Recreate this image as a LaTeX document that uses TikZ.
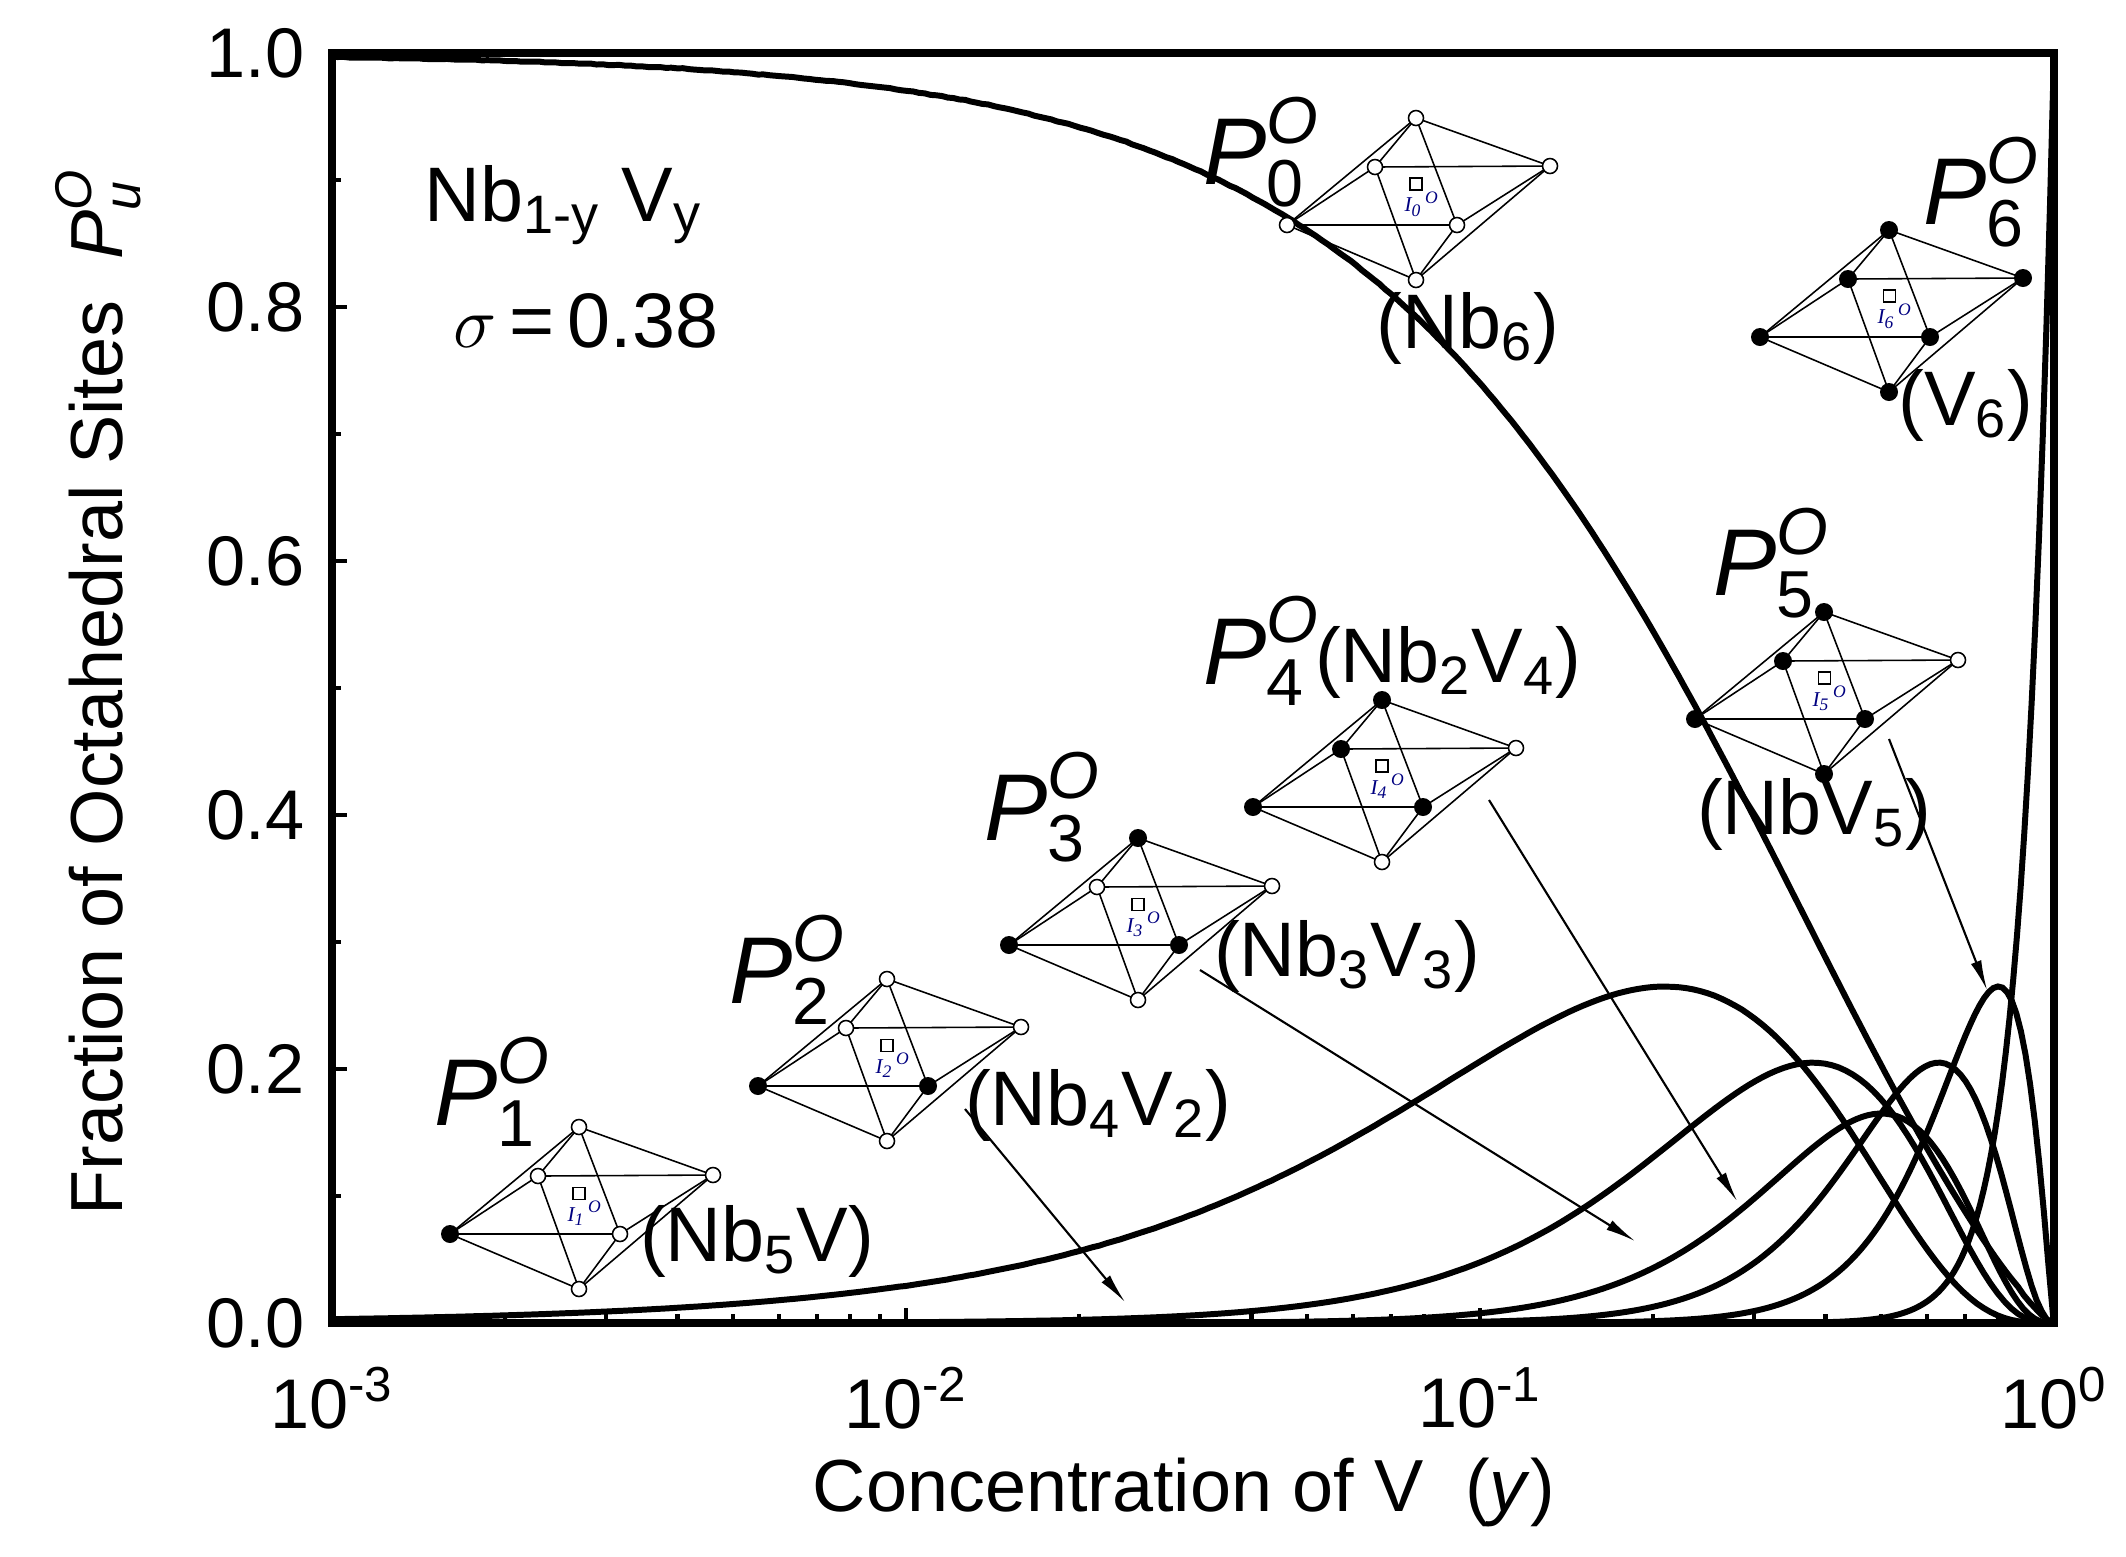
\documentclass[tikz,border=0pt]{standalone}
\usepackage{amsmath}
\usepackage{fontspec}
\setmainfont{Liberation Sans}
\newfontfamily\serifit{Liberation Serif}
\usetikzlibrary{arrows.meta}
\tikzset{
  curve/.style={line width=1.7pt},
  frame/.style={line width=2.2pt},
  oct/.style={line width=0.45pt},
  fv/.style={circle,fill=black,inner sep=0pt,minimum size=1.8mm},
  ov/.style={circle,draw,fill=white,inner sep=0pt,minimum size=1.5mm,line width=0.45pt},
  ptr/.style={line width=0.6pt,-{Latex[length=3mm,width=1.1mm]}},
  plab/.style={font=\fontsize{27}{27}\selectfont,inner sep=0pt},
  clab/.style={font=\fontsize{22}{22}\selectfont,inner sep=0pt},
  ticklab/.style={font=\fontsize{20}{20}\selectfont,inner sep=0pt}
}
\newcommand\PL[1]{$\text{\textit{P}}^{\text{\textit{O}}}_{\text{#1}}$}
\newcommand\octa[9]{%
\begin{scope}[shift={(#1,#2)}]
\coordinate (o#9T) at (0,0);
\coordinate (o#9BL) at (-41,49);
\coordinate (o#9R) at (134,48);
\coordinate (o#9L) at (-129,107);
\coordinate (o#9FR) at (41,107);
\coordinate (o#9B) at (0,162);
\draw[oct] (o#9T)--(o#9L)--(o#9B)--(o#9R)--cycle;
\draw[oct] (o#9T)--(o#9BL)--(o#9B)--(o#9FR)--cycle;
\draw[oct] (o#9L)--(o#9BL)--(o#9R) (o#9L)--(o#9FR)--(o#9R);
\draw[line width=0.3pt] (-6,60) rectangle (6,72);
\node[inner sep=0pt,text=blue!50!black,font=\serifit\itshape\fontsize{6}{6}\selectfont] (lab#9) at (6,86) {I\textsubscript{#9}\textsuperscript{\,O}};
\node[#3] (v#9a) at (o#9T) {};
\node[#4] (v#9b) at (o#9BL) {};
\node[#5] (v#9c) at (o#9R) {};
\node[#6] (v#9d) at (o#9L) {};
\node[#7] (v#9e) at (o#9FR) {};
\node[#8] (v#9f) at (o#9B) {};
\end{scope}}
\begin{document}
\begin{tikzpicture}[x=0.1mm,y=-0.1mm]
\useasboundingbox (0,0) rectangle (2126,1556);
% ticks
\foreach \d in {0,1,2}{
  \foreach \m in {2,...,9}{
    \draw[line width=1.2pt] ({332+574*(\d+log10(\m))},1323) -- ++(0,-9);
  }}
\foreach \d in {1,2}{\draw[line width=1.2pt] ({332+574*\d},1323) -- ++(0,-15);}
\foreach \v in {0.2,0.4,0.6,0.8}{\draw[line width=1.2pt] (332,{1323-1270*\v}) -- ++(15,0);}
\foreach \v in {0.1,0.3,0.5,0.7,0.9}{\draw[line width=1.2pt] (332,{1323-1270*\v}) -- ++(9,0);}
% tick labels
\foreach \v/\s in {0/0.0,0.2/0.2,0.4/0.4,0.6/0.6,0.8/0.8,1/1.0}{
  \node[ticklab,anchor=east] (yl\s) at (305,{1323-1270*\v}) {\s};}
\foreach \d/\e in {0/-3,1/-2,2/-1,3/0}{
  \node[ticklab] (xl\d) at ({332+574*\d},1398) {10\textsuperscript{\e}};}
% axis labels
\node[font=\fontsize{21}{21}\selectfont,rotate=90] (ylab) at (98,692) {Fraction of Octahedral Sites \ \PL{\textit{u}}};
\node[font=\fontsize{21}{21}\selectfont] (xlab) at (1184,1492) {Concentration of V \ (\textit{y})};
% curves
\def\XX#1{332+574*(#1+3)}
\draw[curve] plot[domain=-3:-0.0003,samples=300,variable=\t] ({\XX{\t}},{1323-1270*pow(1-pow(10,\t),3-1.4*pow(10,\t))});
\draw[curve] plot[domain=-1.6:-0.0003,samples=250,variable=\t] ({\XX{\t}},{1323-1270*pow(pow(10,\t),8)});
\foreach \a/\b/\h/\lo in {1/3.76/0.265/-3, 2/3.26/0.205/-3, 3/3/0.165/-2.5, 4/2.35/0.205/-2.2, 5/1.25/0.265/-2}{
  \pgfmathsetmacro\p{\a/(\a+\b)}
  \draw[curve] plot[domain=\lo:-0.0003,samples=250,variable=\t]
    ({\XX{\t}},{1323-1270*\h*pow(pow(10,\t)/\p,\a)*pow((1-pow(10,\t))/(1-\p),\b)});
}
% frame
\draw[frame] (332,53) rectangle (2054,1323);
% octahedra
\octa{1416}{118}{ov}{ov}{ov}{ov}{ov}{ov}{0}
\octa{1889}{230}{fv}{fv}{fv}{fv}{fv}{fv}{6}
\octa{1824}{612}{fv}{fv}{ov}{fv}{fv}{fv}{5}
\octa{1382}{700}{fv}{fv}{ov}{fv}{fv}{ov}{4}
\octa{1138}{838}{fv}{ov}{ov}{fv}{fv}{ov}{3}
\octa{887}{979}{ov}{ov}{ov}{fv}{fv}{ov}{2}
\octa{579}{1127}{ov}{ov}{ov}{fv}{ov}{ov}{1}
% labels
\node[plab] (p0) at (1262,152) {\PL{0}};
\node[plab] (p6) at (1982,192) {\PL{6}};
\node[plab] (p5) at (1772,563) {\PL{5}};
\node[plab] (p4) at (1262,651) {\PL{4}};
\node[plab] (p3) at (1043,807) {\PL{3}};
\node[plab] (p2) at (788,970) {\PL{2}};
\node[plab] (p1) at (493,1092) {\PL{1}};
\node[clab] (c0) at (1468,328) {(Nb\textsubscript{6})};
\node[clab] (c6) at (1966,405) {(V\textsubscript{6})};
\node[clab] (c5) at (1814,814) {(NbV\textsubscript{5})};
\node[clab] (c4) at (1448,662) {(Nb\textsubscript{2}V\textsubscript{4})};
\node[clab] (c3) at (1347,956) {(Nb\textsubscript{3}V\textsubscript{3})};
\node[clab] (c2) at (1098,1105) {(Nb\textsubscript{4}V\textsubscript{2})};
\node[clab] (c1) at (757,1241) {(Nb\textsubscript{5}V)};
\node[clab] (alloy) at (563,205) {Nb\textsubscript{1-y} V\textsubscript{y}};
\node[clab] (sig) at (586,321) {$\sigma$\,=\,0.38};
% arrows
\coordinate (a2s) at (965,1109); \coordinate (a2e) at (1125,1302);
\coordinate (a3s) at (1200,970); \coordinate (a3e) at (1635,1241);
\coordinate (a4s) at (1489,800); \coordinate (a4e) at (1737,1201);
\coordinate (a5s) at (1889,739); \coordinate (a5e) at (1987,990);
\draw[ptr] (a2s) -- (a2e);
\draw[ptr] (a3s) -- (a3e);
\draw[ptr] (a4s) -- (a4e);
\draw[ptr] (a5s) -- (a5e);
\end{tikzpicture}
\end{document}
